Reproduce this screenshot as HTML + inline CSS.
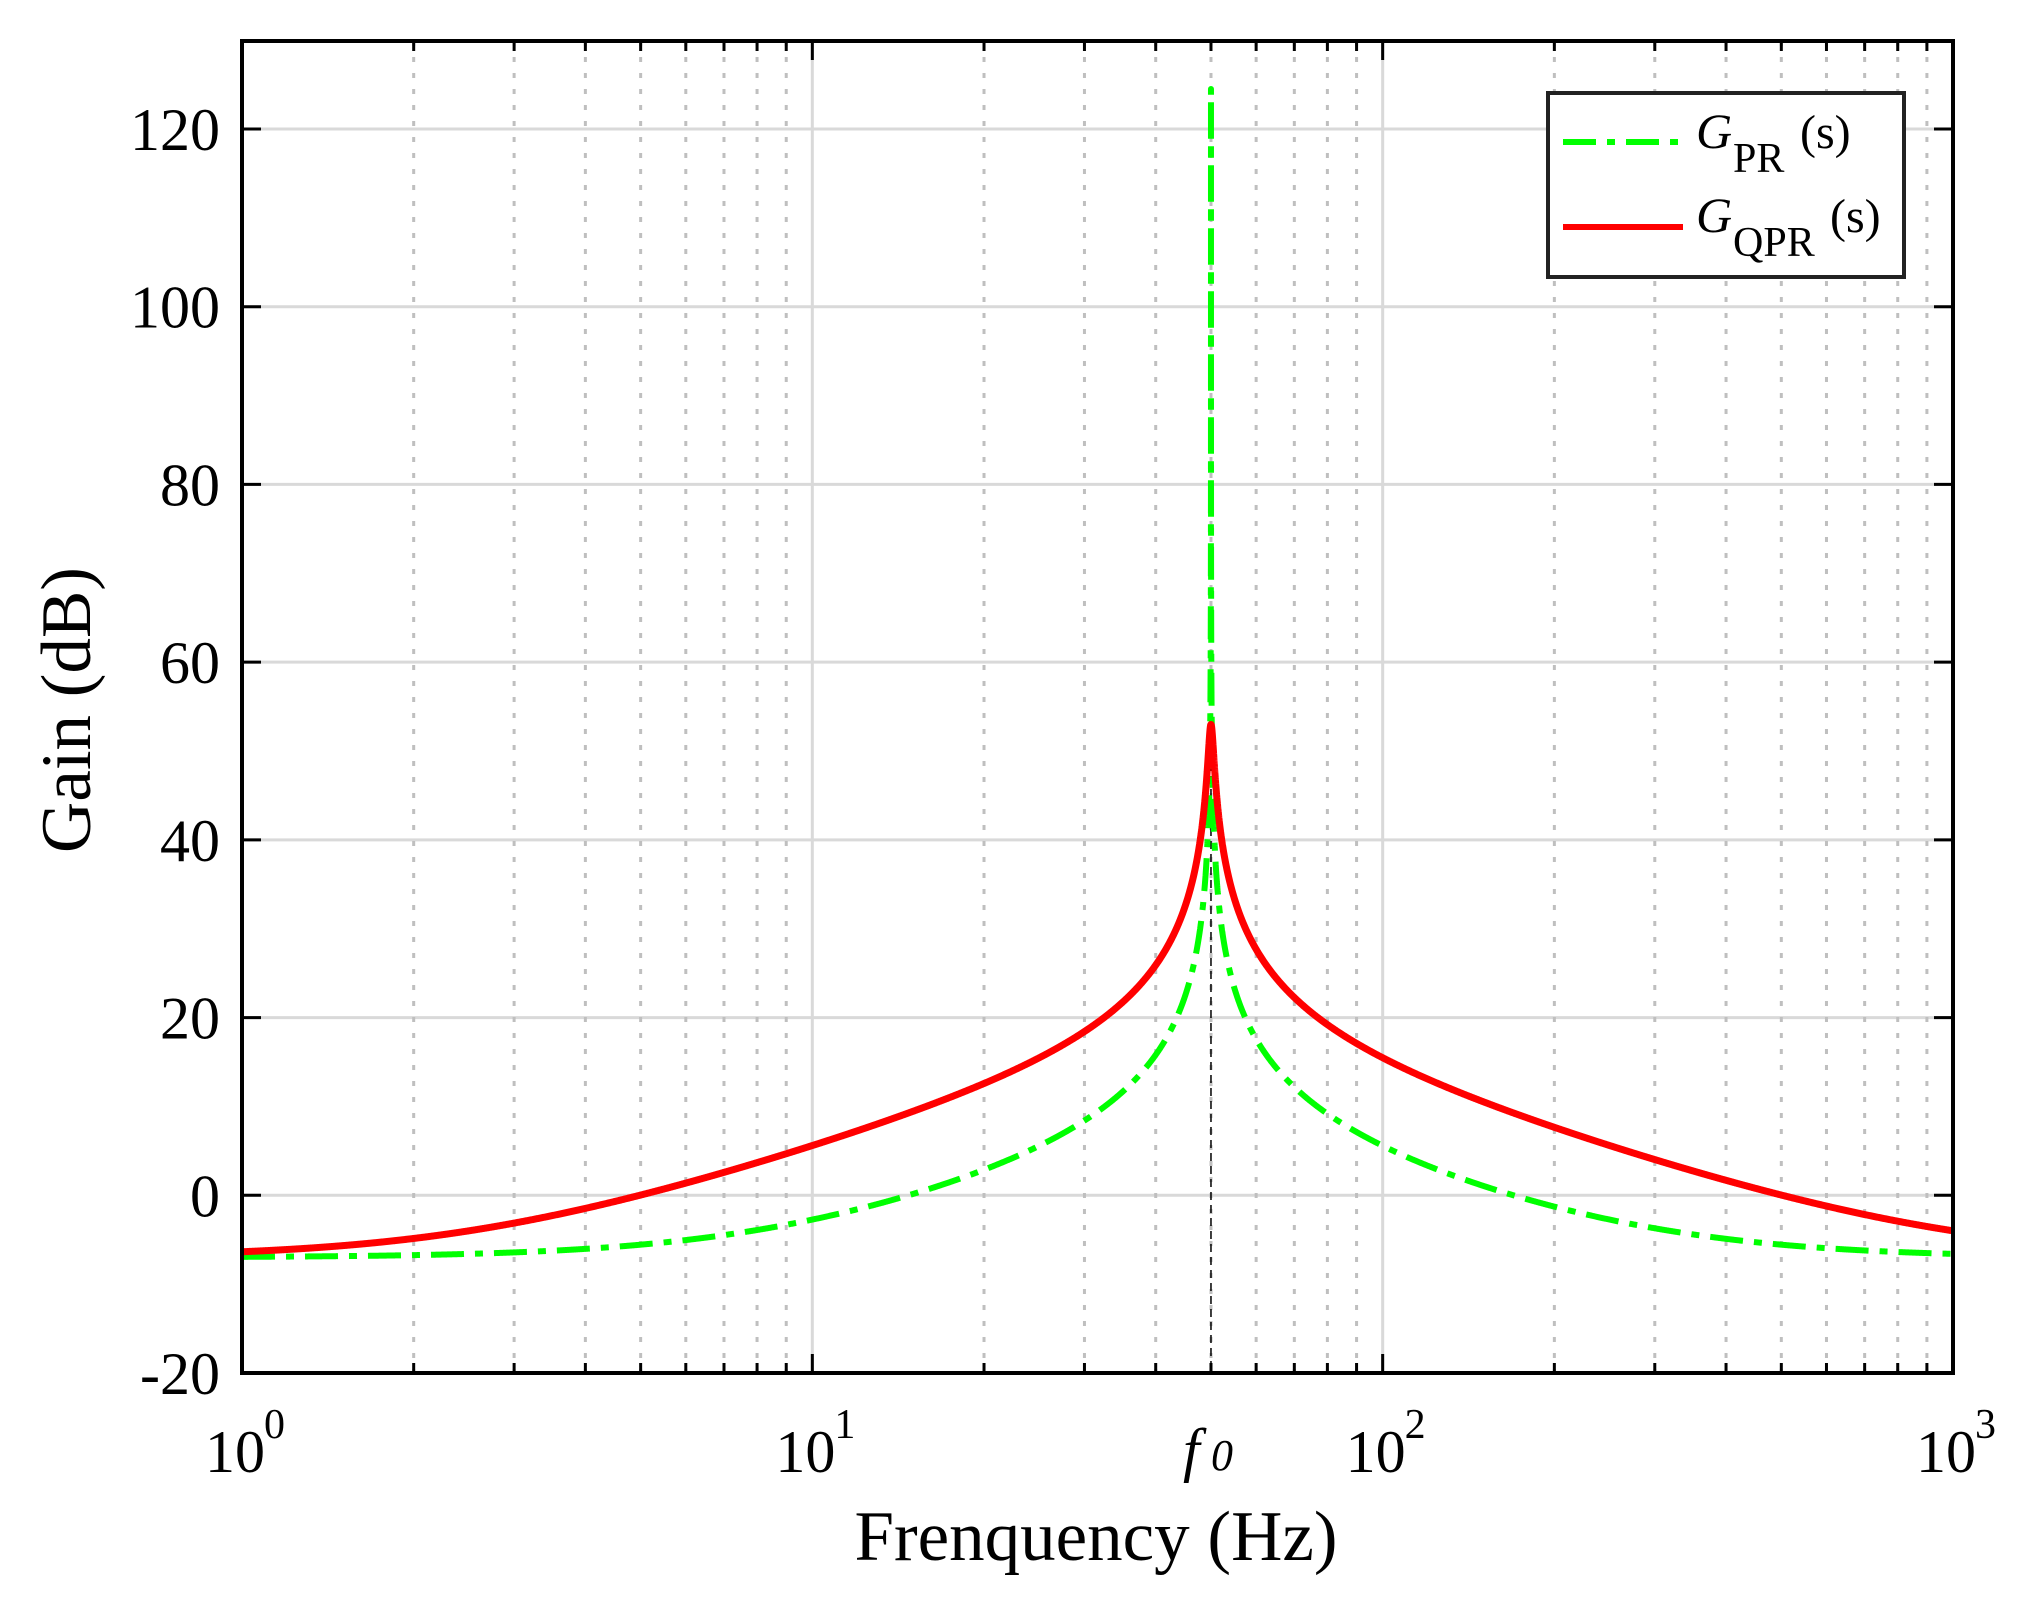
<!DOCTYPE html>
<html><head><meta charset="utf-8"><style>
html,body{margin:0;padding:0;background:#fff;}
svg{display:block;}
text{font-family:"Liberation Serif",serif;fill:#000;}
</style></head><body>
<svg id="s" width="2019" height="1603" viewBox="0 0 2019 1603" xmlns="http://www.w3.org/2000/svg">
<rect width="2019" height="1603" fill="#fff"/>
<g id="grid"></g>
<g id="curves"></g>
<g id="axes"></g>
<g id="labels"></g>
<!-- legend -->
<rect x="1548" y="93" width="356" height="184" fill="#fff" stroke="#222" stroke-width="4"/>
<line x1="1563" y1="142" x2="1680" y2="142" stroke="#00ff00" stroke-width="6" stroke-dasharray="33,11,8,11"/>
<line x1="1563" y1="227" x2="1683" y2="227" stroke="#ff0000" stroke-width="6"/>
<text x="1696" y="148" font-size="50" font-style="italic">G</text>
<text x="1733" y="172" font-size="42">PR</text>
<text x="1800" y="148" font-size="48">(s)</text>
<text x="1696" y="232" font-size="50" font-style="italic">G</text>
<text x="1733" y="256" font-size="42">QPR</text>
<text x="1830" y="232" font-size="48">(s)</text>
<text x="1096" y="1560" font-size="71" text-anchor="middle">Frenquency (Hz)</text>
<text transform="translate(90,710) rotate(-90)" font-size="71" text-anchor="middle">Gain (dB)</text>
</svg>
<script>
(function(){
var L=242,R=1953,T=41,B=1373,dec=(R-L)/3;
function X(f){return L+Math.log10(f)*dec;}
function Y(d){return 129+(120-d)*(1244/140);}
var ns="http://www.w3.org/2000/svg";
function el(p,tag,a,txt){var e=document.createElementNS(ns,tag);for(var k in a)e.setAttribute(k,a[k]);if(txt!==undefined)e.textContent=txt;p.appendChild(e);return e;}
var g=document.getElementById('grid'),ax=document.getElementById('axes'),lb=document.getElementById('labels'),cv=document.getElementById('curves');
for(var d=-20;d<=120;d+=20){var y=Y(d);if(d>-20)el(g,'line',{x1:L,x2:R,y1:y,y2:y,stroke:'#d9d9d9','stroke-width':3});
 el(ax,'line',{x1:L,x2:L+19,y1:y,y2:y,stroke:'#000','stroke-width':3});
 el(ax,'line',{x1:R-19,x2:R,y1:y,y2:y,stroke:'#000','stroke-width':3});
 el(lb,'text',{x:220,y:y+21,'font-size':60,'text-anchor':'end'},String(d));}
for(var e=0;e<3;e++){for(var m=1;m<=9;m++){var f=Math.pow(10,e)*m;var x=X(f);
 if(m==1){if(e>0)el(g,'line',{x1:x,x2:x,y1:T,y2:B,stroke:'#d9d9d9','stroke-width':3});
  el(ax,'line',{x1:x,x2:x,y1:B-19,y2:B,stroke:'#000','stroke-width':3});el(ax,'line',{x1:x,x2:x,y1:T,y2:T+19,stroke:'#000','stroke-width':3});}
 else{el(g,'line',{x1:x,x2:x,y1:T,y2:B,stroke:'#bfbfbf','stroke-width':3,'stroke-dasharray':'5,11'});
  el(ax,'line',{x1:x,x2:x,y1:B-10,y2:B,stroke:'#000','stroke-width':3});el(ax,'line',{x1:x,x2:x,y1:T,y2:T+10,stroke:'#000','stroke-width':3});}
}}
var xl=[[0,'0'],[1,'1'],[2,'2'],[3,'3']];
xl.forEach(function(a){var x=X(Math.pow(10,a[0]));el(lb,'text',{x:x-7,y:1472,'font-size':60,'text-anchor':'middle'},'10');el(lb,'text',{x:x+22,y:1438,'font-size':42},a[1]);});
el(lb,'text',{x:1183,y:1470,'font-size':60,'font-style':'italic'},'f');
el(lb,'text',{x:1211,y:1470,'font-size':44,'font-style':'italic'},'0');
el(cv,'line',{x1:X(50),x2:X(50),y1:750,y2:B,stroke:'#000','stroke-width':1.5,'stroke-dasharray':'8,5'});
var Kp=0.447,Kr=870,w0=2*Math.PI*50,K2=2790,wc=3.13;
var fs=[];for(var i=0;i<=3000;i++)fs.push(Math.pow(10,3*i/3000));
for(var i=0;i<=2000;i++){var u=(i-1000)/1000;fs.push(50*Math.pow(10,0.02*u*u*u));}
fs.sort(function(a,b){return a-b;});
var pp=[],pq=[];
fs.forEach(function(f){var w=2*Math.PI*f;
 var den=w0*w0-w*w;var Xp=Kr*w/den;var mp=Math.sqrt(Kp*Kp+Xp*Xp);var dp=20*Math.log10(mp);if(dp>124.5||!isFinite(dp))dp=124.5;
 var re=den,im=2*wc*w,mag2=re*re+im*im;var nr=K2*w*im/mag2,ni=K2*w*re/mag2;var mq=Math.sqrt((Kp+nr)*(Kp+nr)+ni*ni);var dq=20*Math.log10(mq);
 pp.push(X(f).toFixed(2)+','+Y(dp).toFixed(2));pq.push(X(f).toFixed(2)+','+Y(dq).toFixed(2));});
el(cv,'polyline',{points:pp.join(' '),fill:'none',stroke:'#00ff00','stroke-width':6,'stroke-dasharray':'33,11,8,11','stroke-linejoin':'round'});
el(cv,'polyline',{points:pq.join(' '),fill:'none',stroke:'#ff0000','stroke-width':7,'stroke-linejoin':'round'});
el(ax,'rect',{x:L,y:T,width:R-L,height:B-T,fill:'none',stroke:'#000','stroke-width':4});
})();
</script>
</body></html>
